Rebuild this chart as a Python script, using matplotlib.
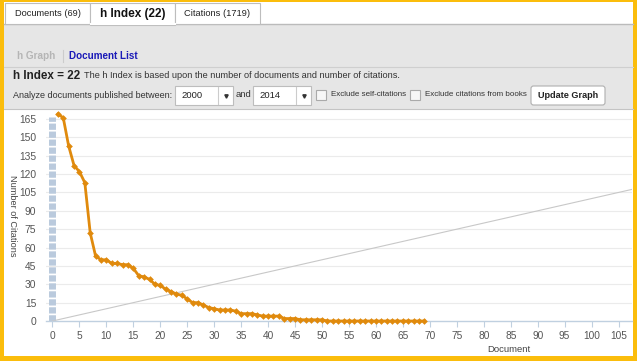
import matplotlib
matplotlib.use("Agg")
import matplotlib.pyplot as plt
from matplotlib.patches import Rectangle, FancyBboxPatch

plt.rcParams['font.family'] = ['Liberation Sans', 'DejaVu Sans']

# ---- data ----
documents = list(range(1, 70))
citations = [169, 166, 143, 127, 122, 113, 72, 53, 50, 50,
             47, 47, 46, 46, 43, 37, 36, 34, 30, 29,
             26, 24, 22, 21, 18, 15, 15, 13, 11, 10,
             9, 9, 9, 8, 6, 6, 6, 5, 4, 4,
             4, 4, 2, 2, 2, 1, 1, 1, 1, 1,
             0, 0, 0, 0, 0, 0, 0, 0, 0, 0,
             0, 0, 0, 0, 0, 0, 0, 0, 0]
h_line = [0, 110]
x_ticks = list(range(0, 110, 5))
y_ticks = list(range(0, 166, 15))
tab_labels = ["Documents (69)", "h Index (22)", "Citations (1719)"]
year_from, year_to = "2000", "2014"

W, H = 637, 361
fig = plt.figure(figsize=(W / 100, H / 100), dpi=100)

# background "page" drawn in pixel coordinates
bg = fig.add_axes([0, 0, 1, 1])
bg.set_xlim(0, W)
bg.set_ylim(H, 0)
bg.axis("off")

def box(x, y, w, h, fc, ec="none", lw=0.8, z=1):
    bg.add_patch(Rectangle((x, y), w, h, facecolor=fc, edgecolor=ec, linewidth=lw, zorder=z))

def txt(x, y, s, size=6.5, color="#333333", weight="normal", ha="left"):
    bg.text(x, y, s, fontsize=size, color=color, fontweight=weight, ha=ha, va="center", zorder=5)

# yellow frame + panels
box(0, 0, W, H, "#FBBD0C")
box(4, 2, 629, 22, "white")
box(4, 24, 629, 85, "#E6E6E6")
box(4, 109, 629, 247, "white")
bg.plot([4, 633], [24, 24], color="#BBBBBB", lw=1, zorder=2)
bg.plot([4, 633], [66.5, 66.5], color="#CFCFCF", lw=0.8, zorder=2)
bg.plot([4, 633], [108.5, 108.5], color="#C4C4C4", lw=0.8, zorder=2)

# tabs
tab_x = [(5, 90), (90, 175), (175, 260)]
for (x0, x1), lab in zip(tab_x, tab_labels):
    active = lab.startswith("h Index")
    box(x0, 3, x1 - x0, 22 if active else 21, "white", "#BDBDBD", z=3)
    if active:
        bg.plot([x0 + 0.5, x1 - 0.5], [24, 24], color="white", lw=1.5, zorder=4)
        txt((x0 + x1) / 2, 13.5, lab, size=8.5, color="#111111", weight="bold", ha="center")
    else:
        txt((x0 + x1) / 2, 13.5, lab, size=6.7, color="#222222", ha="center")

# sub-links
txt(17, 56, "h Graph", size=7.2, color="#B5B5B5", weight="bold")
bg.plot([62.5, 62.5], [50, 62], color="#CCCCCC", lw=0.8, zorder=3)
txt(69, 56, "Document List", size=7.1, color="#1A1AB8", weight="bold")

# h index line
txt(13, 76, "h Index = 22", size=8.4, color="#222222", weight="bold")
txt(84, 76, "The h Index is based upon the number of documents and number of citations.",
    size=6.6, color="#333333")

# controls row
txt(13, 95, "Analyze documents published between:", size=6.5, color="#333333")
for x0, yr in [(175, year_from), (253, year_to)]:
    box(x0, 86, 58, 19, "white", "#BDBDBD", z=3)
    bg.plot([x0 + 43, x0 + 43], [87, 104], color="#CCCCCC", lw=0.8, zorder=4)
    txt(x0 + 6, 95.5, yr, size=6.8, color="#222222")
    bg.plot(x0 + 50.5, 95.5, marker="v", ms=2.4, color="#333333", zorder=5)
txt(236, 94.5, "and", size=6.8, color="#333333")
for cx, lab in [(316, "Exclude self-citations"), (410, "Exclude citations from books")]:
    box(cx, 90, 10, 10, "#F7F7F7", "#AAAAAA", z=3)
    txt(cx + 15, 94.5, lab, size=5.8, color="#333333")
bg.add_patch(FancyBboxPatch((531, 86), 74, 19, boxstyle="round,pad=0,rounding_size=2.5",
                            facecolor="white", edgecolor="#AFAFAF", linewidth=0.8, zorder=3))
txt(568, 95.5, "Update Graph", size=6.6, color="#222222", weight="bold", ha="center")

# ---- chart ----
x_left, x_right = -1.2, 107.5
y_top = 170.7
ax = fig.add_axes([46 / W, 1 - 321 / H, (632 - 46) / W, (321 - 112) / H])
ax.set_facecolor("none")
ax.set_xlim(x_left, x_right)
ax.set_ylim(0, y_top)

for yv in y_ticks[1:]:
    ax.axhline(yv, color="#EBEBEB", lw=0.8, zorder=0)

ax.axvline(0, ymin=0, ymax=166.5 / y_top, color="#BACADD", lw=5.0,
           dashes=(0.9, 0.25), zorder=1)
ax.plot(h_line, h_line, color="#C8C8C8", lw=0.8, zorder=2)
ax.plot(documents, citations, color="#E08A0D", lw=2.0, marker="D", ms=3.4,
        markeredgewidth=0, zorder=3, clip_on=False)

for side in ["top", "right", "left"]:
    ax.spines[side].set_visible(False)
ax.spines["bottom"].set_color("#C0D0E0")
ax.spines["bottom"].set_linewidth(1)

ax.set_xticks(x_ticks)
ax.set_yticks(y_ticks)
ax.tick_params(axis="x", length=4, width=0.8, color="#C0D0E0", labelsize=7.3,
               labelcolor="#555555", pad=3)
ax.tick_params(axis="y", length=0, labelsize=7.4, labelcolor="#555555", pad=7)
for lab in ax.get_yticklabels():
    lab.set_horizontalalignment("right")

fig.text(12 / W, 1 - 216 / H, "Number of Citations", rotation=-90, fontsize=6.6,
         color="#444444", ha="center", va="center")
fig.text(509 / W, 1 - 349 / H, "Document", fontsize=6.8, color="#444444",
         ha="center", va="center")

fig.savefig("out.png", dpi=100)
